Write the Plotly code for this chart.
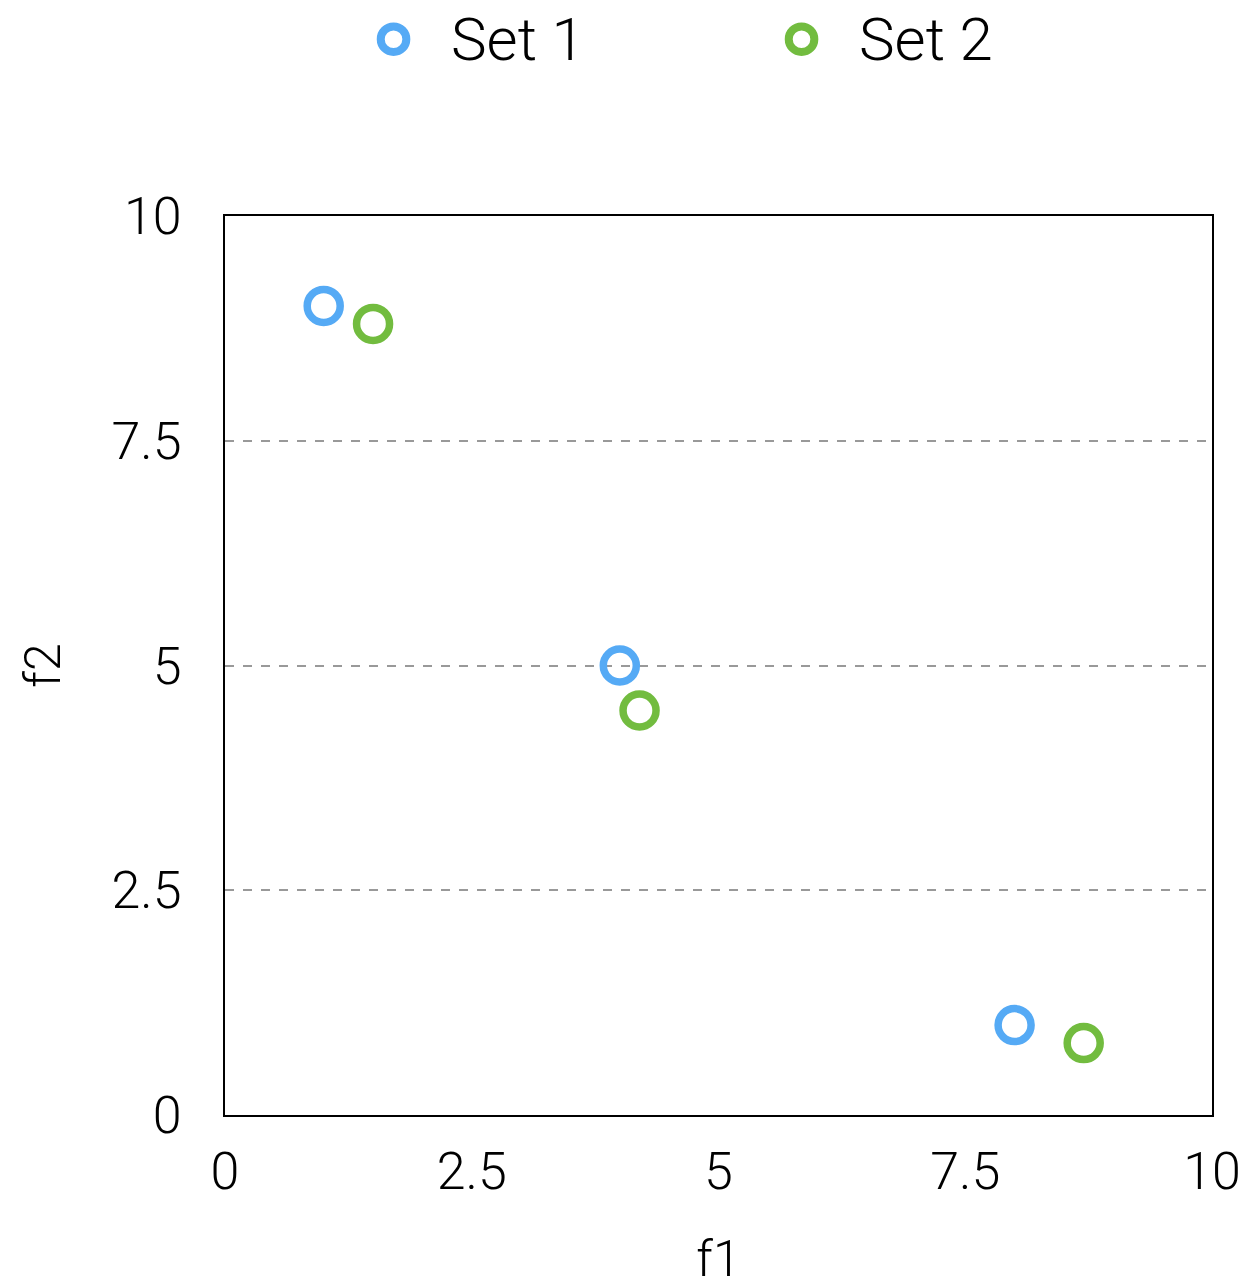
import plotly.graph_objects as go

set1_x = [1.0, 4.0, 8.0]
set1_y = [9.0, 5.0, 1.0]
set2_x = [1.5, 4.2, 8.7]
set2_y = [8.8, 4.5, 0.8]
tick_vals = [0, 2.5, 5, 7.5, 10]
tick_text = ["0", "2.5", "5", "7.5", "10"]

FONT = "Roboto"
fig = go.Figure()
fig.add_trace(go.Scatter(x=set1_x, y=set1_y, mode="markers", name="Set 1",
                         marker=dict(symbol="circle-open", size=33, color="#55aaf5",
                                     line=dict(width=7.5, color="#55aaf5"))))
fig.add_trace(go.Scatter(x=set2_x, y=set2_y, mode="markers", name="Set 2",
                         marker=dict(symbol="circle-open", size=33, color="#72bc3f",
                                     line=dict(width=7.5, color="#72bc3f"))))

axis_common = dict(range=[0, 10], tickvals=tick_vals, ticktext=tick_text,
                   showline=True, linecolor="black", linewidth=2, mirror=True,
                   ticks="", zeroline=False,
                   tickfont=dict(family=FONT, size=52, color="black", weight=300),
                   title_font=dict(family=FONT, size=50, color="black", weight=300))
fig.update_layout(
    width=1249, height=1288,
    margin=dict(l=225, r=37, t=216, b=173, autoexpand=False),
    paper_bgcolor="white", plot_bgcolor="white",
    xaxis=dict(**axis_common, showgrid=False, title_text="f1", title_standoff=63,
               ticklabelstandoff=10),
    yaxis=dict(**axis_common, showgrid=True, gridcolor="#999999", griddash="dash",
               gridwidth=1.5, title_text="f2", title_standoff=35, ticklabelstandoff=31),
    showlegend=True,
    legend=dict(orientation="h", x=0.1125, xanchor="left", y=1.2, yanchor="middle",
                font=dict(family=FONT, size=60, color="black", weight=300),
                itemwidth=105,
                entrywidth=288, entrywidthmode="pixels", itemsizing="trace"),
)
post = """
document.body.style.margin='0';
document.querySelectorAll('.legendpoints path.scatterpts').forEach(function(p){
  var t = p.getAttribute('transform') || '';
  p.setAttribute('transform', t + ' translate(0,3) scale(1.6)');
});
"""
fig.write_html("out.html", config={"displayModeBar": False}, post_script=post)
